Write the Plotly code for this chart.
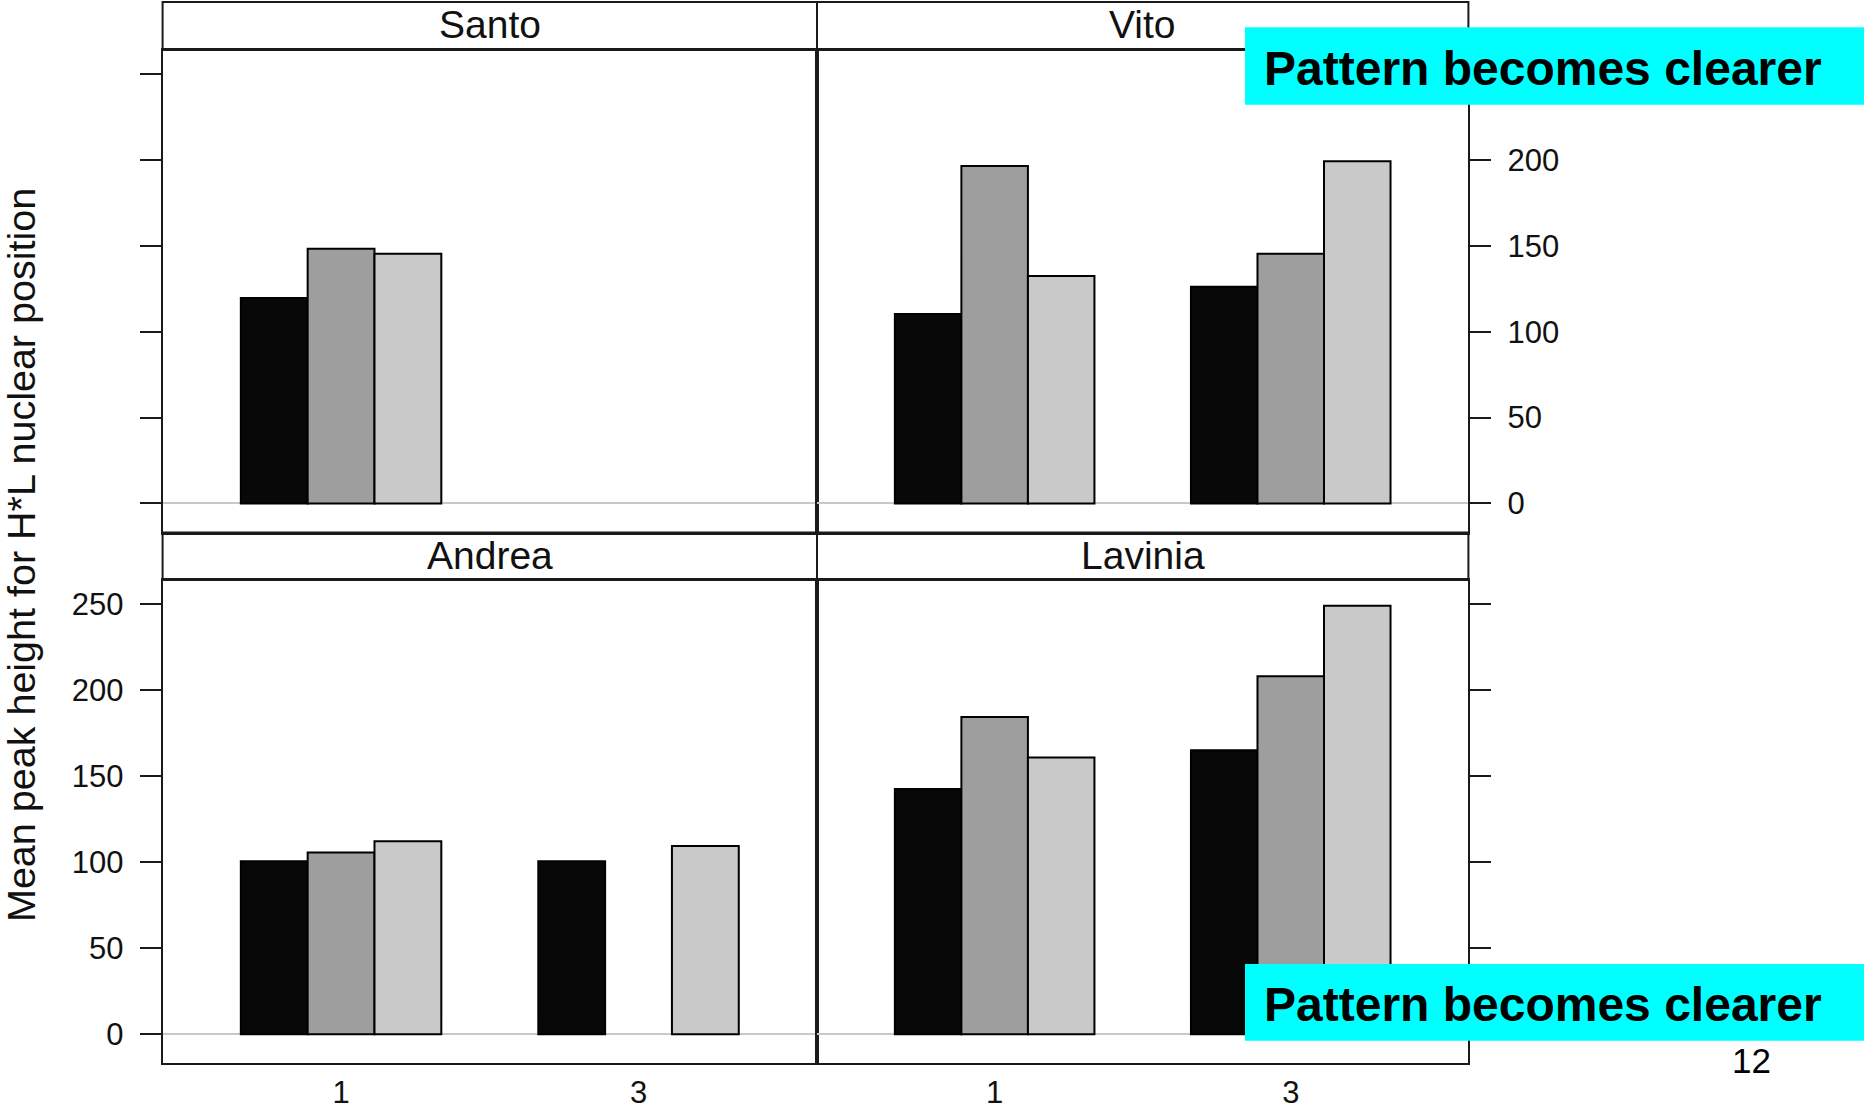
import plotly.graph_objects as go
from plotly.subplots import make_subplots

# ---- data -------------------------------------------------------------
categories = ["1", "3"]
panel_names = ["Santo", "Vito", "Andrea", "Lavinia"]

santo_black = [119.6, None]
santo_gray = [148.3, None]
santo_light = [145.4, None]

vito_black = [110.4, 126.2]
vito_gray = [196.5, 145.4]
vito_light = [132.5, 199.3]

andrea_black = [100.6, 100.6]
andrea_gray = [105.7, None]
andrea_light = [112.2, 109.5]

lavinia_black = [142.6, 165.2]
lavinia_gray = [184.5, 208.1]
lavinia_light = [160.9, 249.1]

y_ticks = [0, 50, 100, 150, 200, 250]
y_tick_text = ["0", "50", "100", "150", "200", "250"]
y_title = "Mean peak height for H*L nuclear position"
note_text = "Pattern becomes clearer"
page_number = "12"

# ---- geometry ---------------------------------------------------------
W, H = 1864, 1110


def fx(px):
    return px / W


def fy(py):
    return 1 - py / H


X0, XM, X1 = 162.6, 817.0, 1468.4
TOP_STRIP = (2.0, 50.0)
TOP_PLOT = (50.0, 532.5)
BOT_STRIP = (532.5, 580.0)
BOT_PLOT = (580.0, 1063.4)

FONT = "Liberation Sans, Arial, Helvetica, sans-serif"
INK = "#1a1a1a"
FILLS = ["#070807", "#9e9e9e", "#c9c9c9"]

fig = make_subplots(rows=2, cols=2)

panel_series = [
    (santo_black, santo_gray, santo_light),
    (vito_black, vito_gray, vito_light),
    (andrea_black, andrea_gray, andrea_light),
    (lavinia_black, lavinia_gray, lavinia_light),
]
cells = [(1, 1), (1, 2), (2, 1), (2, 2)]

for (row, col), series in zip(cells, panel_series):
    for vals, color in zip(series, FILLS):
        fig.add_trace(
            go.Bar(
                x=categories,
                y=vals,
                marker=dict(color=color, line=dict(color="#000000", width=2)),
                showlegend=False,
                hoverinfo="skip",
            ),
            row=row,
            col=col,
        )

fig.update_layout(
    width=W,
    height=H,
    autosize=False,
    margin=dict(l=0, r=0, t=0, b=0, pad=0),
    paper_bgcolor="white",
    plot_bgcolor="white",
    barmode="group",
    bargap=0.326,
    bargroupgap=0,
    font=dict(family=FONT, color="#111111"),
)

axis_common = dict(
    showgrid=False,
    showline=True,
    mirror=True,
    linecolor=INK,
    linewidth=2,
    automargin=False,
)

x_domains = [(X0, XM), (XM, X1), (X0, XM), (XM, X1)]
y_domains = [TOP_PLOT, TOP_PLOT, BOT_PLOT, BOT_PLOT]
y_sides = ["left", "right", "left", "right"]
y_labels_on = [False, True, True, False]
x_labels_on = [False, False, True, True]

for i in range(4):
    suffix = "" if i == 0 else str(i + 1)
    xd = x_domains[i]
    yd = y_domains[i]
    fig.layout["xaxis" + suffix].update(
        domain=[fx(xd[0]), fx(xd[1])],
        type="category",
        range=[-0.6, 1.6],
        ticks="",
        showticklabels=x_labels_on[i],
        tickfont=dict(size=31, family=FONT, color="#111111"),
        ticklabelstandoff=0,
        zeroline=False,
        **axis_common,
    )
    labels = list(y_tick_text)
    if i == 1:
        # the top label on this side sits under the note box
        labels[-1] = ""
    fig.layout["yaxis" + suffix].update(
        domain=[fy(yd[1]), fy(yd[0])],
        range=[-16.9, 264.1],
        side=y_sides[i],
        tickvals=y_ticks,
        ticktext=labels,
        ticks="outside",
        ticklen=21,
        tickwidth=2,
        tickcolor=INK,
        showticklabels=y_labels_on[i],
        tickfont=dict(size=31, family=FONT, color="#111111"),
        ticklabelstandoff=10,
        zeroline=True,
        zerolinecolor="#c8c8c8",
        zerolinewidth=2,
        **axis_common,
    )

# ---- strips ---------------------------------------------------------------
shapes = []
strip_boxes = [
    (X0, XM, TOP_STRIP),
    (XM, X1, TOP_STRIP),
    (X0, XM, BOT_STRIP),
    (XM, X1, BOT_STRIP),
]
annotations = []
for name, (a, b, (s0, s1)) in zip(panel_names, strip_boxes):
    shapes.append(
        dict(
            type="rect", xref="paper", yref="paper",
            x0=fx(a), x1=fx(b), y0=fy(s1), y1=fy(s0),
            fillcolor="white", line=dict(color=INK, width=2), layer="below",
        )
    )
    annotations.append(
        dict(
            text=name, xref="paper", yref="paper",
            x=fx((a + b) / 2), y=fy((s0 + s1) / 2 - 1),
            xanchor="center", yanchor="middle", showarrow=False,
            font=dict(size=39, family=FONT, color="#111111"),
        )
    )

# ---- highlighted notes -----------------------------------------------------
for top, bottom, mid in [(27.3, 104.7, 68.0), (964.0, 1040.7, 1004.5)]:
    shapes.append(
        dict(
            type="rect", xref="paper", yref="paper",
            x0=fx(1245), x1=1.0, y0=fy(bottom), y1=fy(top),
            fillcolor="#00ffff", line=dict(width=0), layer="above",
        )
    )
    annotations.append(
        dict(
            text="<b>" + note_text + "</b>", xref="paper", yref="paper",
            x=fx(1262), y=fy(mid), xanchor="left", yanchor="middle",
            showarrow=False,
            font=dict(size=48, family=FONT, color="#000000"),
        )
    )

# ---- y title and page number ---------------------------------------------------
annotations.append(
    dict(
        text=y_title, xref="paper", yref="paper",
        x=fx(21), y=fy(555), xanchor="center", yanchor="middle",
        textangle=-90, showarrow=False,
        font=dict(size=39.5, family=FONT, color="#111111"),
    )
)
annotations.append(
    dict(
        text=page_number, xref="paper", yref="paper",
        x=fx(1751.6), y=fy(1060.7), xanchor="center", yanchor="middle",
        showarrow=False,
        font=dict(size=35, family=FONT, color="#000000"),
    )
)

fig.update_layout(shapes=shapes, annotations=annotations)

fig.write_html("out.html", config={"responsive": False})
